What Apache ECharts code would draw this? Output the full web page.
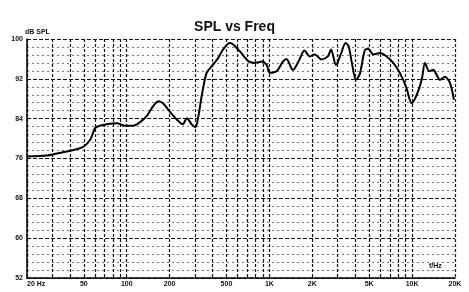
<!DOCTYPE html>
<html>
<head>
<meta charset="utf-8">
<script src="https://cdn.jsdelivr.net/npm/echarts@6/dist/echarts.min.js"></script>
<style>
  html, body { margin: 0; padding: 0; background: #fff; }
  #chart { width: 469px; height: 292px; }
</style>
</head>
<body>
<div id="chart"></div>
<script>
// frequency (Hz) and level (dB SPL)
const freqs = [20, 27.6, 32.4, 38, 45, 50, 55.6, 60, 65, 76, 85, 97, 111, 124, 138, 154, 167, 181, 202, 225,
  247, 264, 286, 303, 318, 335, 363, 394, 438, 474, 528, 557, 622, 715, 795, 884, 957, 1009, 1121, 1247,
  1315, 1462, 1626, 1761, 1917, 2080, 2311, 2569, 2702, 2929, 3163, 3421, 3597, 3786, 4046, 4306, 4698, 4940,
  5356, 5966, 6636, 7386, 8212, 9134, 9924, 10790, 11690, 12330, 13220, 14100, 14870, 15690, 17000, 18430, 19660];
const spl = [76.4, 76.6, 77.0, 77.4, 77.9, 78.4, 79.8, 82.1, 82.6, 83.0, 83.1, 82.6, 82.6, 83.3, 84.5, 86.6, 87.5, 87.0, 85.3, 83.8,
  82.9, 84.1, 82.8, 82.3, 84.5, 88.5, 93.2, 94.5, 96.2, 97.9, 99.2, 98.9, 97.5, 95.5, 95.2, 95.5, 94.8, 93.2, 93.5, 95.5,
  96.0, 93.8, 95.9, 97.7, 96.5, 96.9, 95.9, 96.5, 97.9, 94.8, 96.9, 99.2, 98.5, 95.2, 91.8, 93.0, 97.9, 98.0,
  96.9, 97.2, 96.5, 95.2, 93.2, 90.2, 87.1, 88.8, 91.8, 95.2, 93.5, 93.8, 92.8, 91.8, 92.4, 91.2, 87.8];

const gridFreqs = [20, 30, 40, 50, 60, 70, 80, 90, 100, 200, 300, 400, 500, 600, 700, 800, 900,
  1000, 2000, 3000, 4000, 5000, 6000, 7000, 8000, 9000, 10000, 20000];
const labelFreqs = [20, 50, 100, 200, 500, 1000, 2000, 5000, 10000, 20000];
const labelText = { 20: '20 Hz', 1000: '1K', 2000: '2K', 5000: '5K', 10000: '10K', 20000: '20K' };

const chart = echarts.init(document.getElementById('chart'));

const labelStyle = { color: '#111', fontSize: 7, fontWeight: 'bold', fontFamily: 'Liberation Sans, Arial' };

chart.setOption({
  backgroundColor: '#fff',
  animation: false,
  title: {
    text: 'SPL vs Freq',
    left: 'center',
    top: 15,
    textStyle: { color: '#111', fontSize: 14, fontWeight: 'bold', fontFamily: 'Liberation Sans, Arial' }
  },
  grid: { left: 27, right: 14, top: 39, bottom: 14 },
  xAxis: {
    type: 'log',
    logBase: 10,
    min: 20,
    max: 20000,
    name: 'f/Hz',
    nameLocation: 'end',
    nameGap: -26,
    nameTextStyle: Object.assign({}, labelStyle, { verticalAlign: 'bottom', padding: [0, 0, 8, 0] }),
    axisLine: { lineStyle: { color: '#000', width: 1.5 } },
    axisTick: { show: false, customValues: gridFreqs },
    axisLabel: Object.assign({}, labelStyle, {
      customValues: labelFreqs,
      margin: 3,
      alignMinLabel: 'left',
      formatter: v => labelText[v] || String(v)
    }),
    splitLine: { show: true, lineStyle: { color: '#111', width: 1.2, type: [3, 2] } }
  },
  yAxis: {
    type: 'value',
    min: 52,
    max: 100,
    interval: 8,
    name: 'dB SPL',
    nameLocation: 'end',
    nameGap: 2,
    nameTextStyle: Object.assign({}, labelStyle, { align: 'left', padding: [0, 0, 0, -2] }),
    axisLine: { show: true, lineStyle: { color: '#000', width: 1.5 } },
    axisTick: { show: false },
    axisLabel: Object.assign({}, labelStyle, { margin: 4 }),
    splitLine: { lineStyle: { color: '#111', width: 1, type: [4, 2] } },
    minorTick: { show: false, splitNumber: 5 },
    minorSplitLine: { show: true, lineStyle: { color: '#777', width: 1, type: [2, 3] } }
  },
  series: [{
    type: 'line',
    data: freqs.map((f, i) => [f, spl[i]]),
    showSymbol: false,
    smooth: 0.3,
    lineStyle: { color: '#000', width: 2 }
  }]
});
</script>
</body>
</html>
